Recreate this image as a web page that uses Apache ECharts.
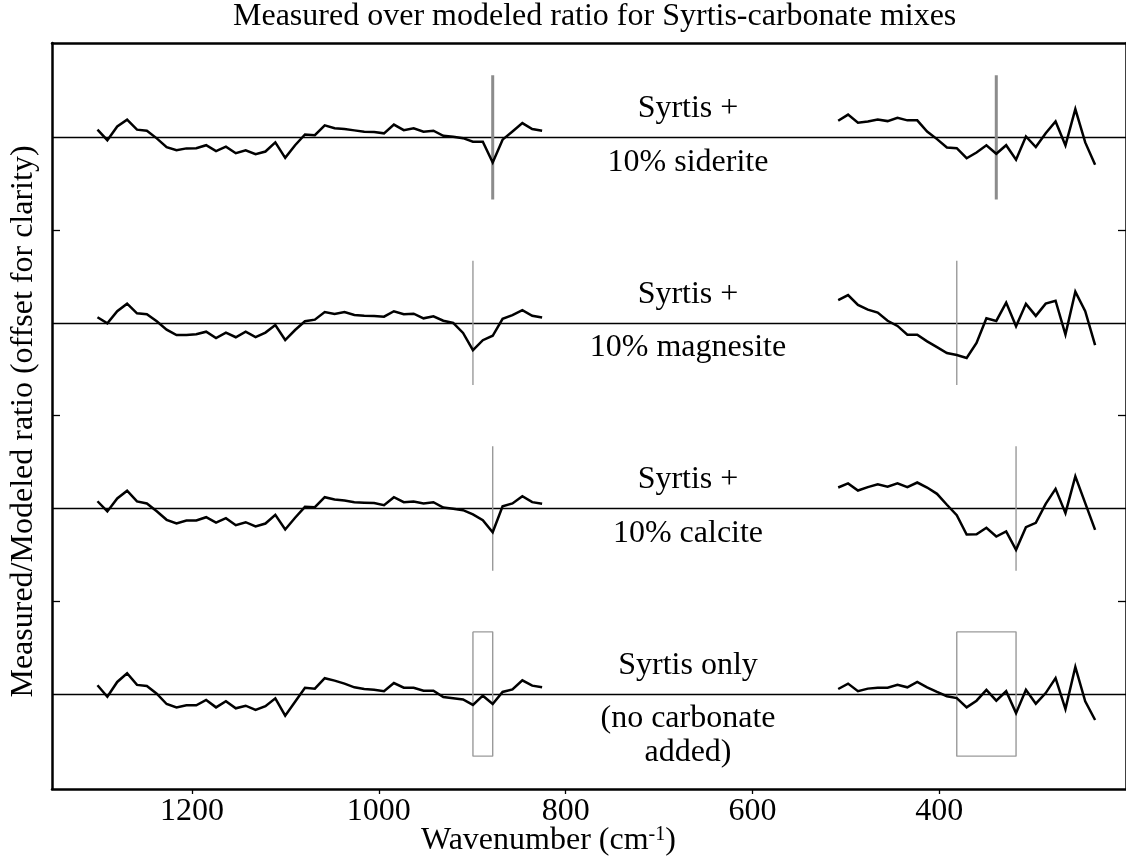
<!DOCTYPE html>
<html><head><meta charset="utf-8">
<script src="https://cdn.jsdelivr.net/npm/echarts@6/dist/echarts.min.js"></script>
<style>html,body{margin:0;padding:0;background:#fff}#c{width:1126px;height:863px}</style>
</head><body><div id="c"></div>
<script>
// TES channel wavenumbers (cm-1), as plotted
const wnLeft = [1301.31,1290.73,1280.15,1269.57,1258.99,1248.41,1237.83,1227.25,1216.67,1206.09,1195.51,1184.93,1174.35,1163.77,1153.19,1142.61,1132.03,1121.45,1110.87,1100.29,1089.71,1079.13,1068.55,1057.97,1047.39,1036.81,1026.23,1015.65,1005.07,994.49,983.91,973.33,962.75,952.17,941.59,931.01,920.43,909.85,899.27,888.69,878.11,867.53,856.95,846.37,835.79,825.21];
const wnRight = [508.17,497.59,487.01,476.43,465.85,455.27,444.69,434.11,423.53,412.95,402.37,391.79,381.21,370.63,360.05,349.47,338.89,328.31,317.73,307.15,296.57,285.99,275.41,264.83,254.25,243.66,233.08];

// Measured/modeled ratio (before offset)
const sideriteLeft = [1.0042,0.9985,1.0059,1.0096,1.0042,1.0036,0.9995,0.9948,0.9931,0.9941,0.9942,0.9958,0.9926,0.9950,0.9915,0.9931,0.9910,0.9924,0.9973,0.9890,0.9958,1.0016,1.0012,1.0065,1.0050,1.0045,1.0038,1.0031,1.0029,1.0022,1.0069,1.0039,1.0049,1.0031,1.0036,1.0009,1.0004,0.9996,0.9977,0.9977,0.9865,0.9988,1.0032,1.0077,1.0045,1.0036];
const sideriteRight = [1.0090,1.0123,1.0079,1.0086,1.0096,1.0088,1.0106,1.0092,1.0092,1.0032,0.9991,0.9946,0.9942,0.9888,0.9919,0.9958,0.9912,0.9958,0.9880,1.0005,0.9948,1.0023,1.0086,0.9957,1.0153,0.9973,0.9853];
const magnesiteLeft = [1.0031,0.9998,1.0063,1.0104,1.0052,1.0047,1.0009,0.9964,0.9935,0.9935,0.9939,0.9953,0.9919,0.9948,0.9923,0.9953,0.9924,0.9948,0.9989,0.9908,0.9962,1.0009,1.0018,1.0059,1.0049,1.0059,1.0043,1.0039,1.0038,1.0034,1.0063,1.0047,1.0050,1.0025,1.0036,1.0012,1.0000,0.9946,0.9853,0.9907,0.9931,1.0022,1.0042,1.0069,1.0039,1.0029];
const magnesiteRight = [1.0123,1.0150,1.0097,1.0072,1.0056,1.0012,0.9984,0.9937,0.9937,0.9901,0.9870,0.9838,0.9827,0.9811,0.9892,1.0025,1.0011,1.0110,0.9982,1.0103,1.0038,1.0104,1.0120,0.9937,1.0169,1.0063,0.9880];
const calciteLeft = [1.0039,0.9984,1.0054,1.0096,1.0038,1.0027,0.9985,0.9939,0.9919,0.9935,0.9935,0.9953,0.9924,0.9948,0.9910,0.9926,0.9903,0.9919,0.9966,0.9887,0.9950,1.0009,1.0007,1.0061,1.0049,1.0043,1.0034,1.0031,1.0029,1.0018,1.0061,1.0034,1.0038,1.0027,1.0034,1.0005,0.9998,0.9991,0.9968,0.9937,0.9872,1.0012,1.0027,1.0066,1.0034,1.0025];
const calciteRight = [1.0113,1.0135,1.0097,1.0115,1.0130,1.0117,1.0135,1.0115,1.0140,1.0113,1.0079,1.0020,0.9964,0.9860,0.9861,0.9896,0.9849,0.9876,0.9777,0.9899,0.9923,1.0025,1.0106,0.9975,1.0173,1.0029,0.9885];
const syrtisLeft = [1.0047,0.9985,1.0065,1.0112,1.0049,1.0043,1.0002,0.9946,0.9928,0.9939,0.9939,0.9968,0.9928,0.9961,0.9923,0.9937,0.9914,0.9934,0.9977,0.9883,0.9958,1.0034,1.0029,1.0085,1.0072,1.0056,1.0036,1.0027,1.0023,1.0015,1.0059,1.0034,1.0034,1.0018,1.0018,0.9984,0.9977,0.9971,0.9941,0.9991,0.9946,1.0011,1.0025,1.0074,1.0045,1.0036];
const syrtisRight = [1.0027,1.0056,1.0015,1.0029,1.0034,1.0034,1.0050,1.0036,1.0065,1.0036,1.0011,0.9988,0.9978,0.9928,0.9964,1.0022,0.9964,1.0015,0.9897,1.0023,0.9948,1.0005,1.0086,0.9919,1.0146,0.9961,0.9860];

// Vertical offsets for clarity (top to bottom)
const offsets = [0.3, 0.2, 0.1, 0.0];
const labelsAbove = ['Syrtis +', 'Syrtis +', 'Syrtis +', 'Syrtis only'];
const labelsBelow = [['10% siderite'], ['10% magnesite'], ['10% calcite'], ['(no carbonate', 'added)']];

// Carbonate band positions (cm-1)
const sideriteBands = [878.11, 338.89];
const magnesiteBands = [899.27, 381.21];
const calciteBands = [878.11, 317.73];
const syrtisBoxes = [[899.27, 878.11], [381.21, 317.73]];

const xTicks = [1200, 1000, 800, 600, 400];
const yTicks = [1.05, 1.15, 1.25];

const FONT = "'Liberation Serif', 'Times New Roman', serif";
const spectra = [
  [sideriteLeft, sideriteRight],
  [magnesiteLeft, magnesiteRight],
  [calciteLeft, calciteRight],
  [syrtisLeft, syrtisRight]
];

const series = [];
const H = 0.0335;
spectra.forEach((pair, k) => {
  const off = offsets[k];
  [[wnLeft, pair[0]], [wnRight, pair[1]]].forEach(([wn, vals], s) => {
    const ser = {
      type: 'line', showSymbol: false, symbol: 'none', silent: true, z: 5,
      lineStyle: { color: '#000', width: 2.5, join: 'miter' },
      data: wn.map((w, i) => [w, vals[i] + off])
    };
    if (s === 0) {
      ser.markLine = {
        silent: true, symbol: 'none', label: { show: false },
        lineStyle: { color: '#000', width: 1.3, type: 'solid' },
        data: [{ yAxis: 1 + off }], z: 2
      };
    }
    series.push(ser);
  });
});

function vline(x, base, width, color) {
  series.push({
    type: 'line', symbol: 'none', silent: true, z: 3,
    lineStyle: { color: color, width: width },
    data: [[x, base + H], [x, base - H]]
  });
}
sideriteBands.forEach(x => vline(x, 1 + offsets[0], 3, '#8c8c8c'));
magnesiteBands.forEach(x => vline(x, 1 + offsets[1], 1.4, '#9a9a9a'));
calciteBands.forEach(x => vline(x, 1 + offsets[2], 1.4, '#9a9a9a'));
syrtisBoxes.forEach(([a, b]) => {
  const base = 1 + offsets[3];
  series.push({
    type: 'line', symbol: 'none', silent: true, z: 3,
    lineStyle: { color: '#9a9a9a', width: 1.4 },
    data: [[a, base + H], [b, base + H], [b, base - H], [a, base - H], [a, base + H]]
  });
});

// annotation texts
const textX = 669;
const annot = [];
labelsAbove.forEach((t, k) => {
  const base = 1 + offsets[k];
  annot.push({ name: t, value: [textX, base + 0.0155] });
  labelsBelow[k].forEach((t2, j) => {
    annot.push({ name: t2, value: [textX, base - 0.0135 - j * 0.0183] });
  });
});
series.push({
  type: 'scatter', symbolSize: 0, silent: true, z: 6,
  itemStyle: { opacity: 1 },
  data: annot,
  label: {
    show: true, position: 'inside', formatter: p => p.name,
    fontFamily: FONT, fontSize: 32, color: '#000', opacity: 1, textBorderWidth: 0
  }
});

const axisFont = { fontFamily: FONT, fontSize: 32, color: '#000', fontWeight: 'normal' };
const option = {
  animation: false,
  backgroundColor: '#fff',
  title: [
    { text: 'Measured over modeled ratio for Syrtis-carbonate mixes', left: 233, top: 1, padding: 0,
      textStyle: { fontFamily: FONT, fontSize: 32, fontWeight: 'normal', color: '#000' } },
    { text: '{a|Wavenumber (cm}{b|-1}{a|)}', left: 421, top: 825, padding: 0,
      textStyle: { fontWeight: 'normal', rich: {
        a: { fontFamily: FONT, fontSize: 32, fontWeight: 'normal', color: '#000', lineHeight: 32 },
        b: { fontFamily: FONT, fontSize: 20, fontWeight: 'normal', color: '#000', verticalAlign: 'top', lineHeight: 20 }
      } } }
  ],
  grid: { left: 52, top: 43, width: 1079, height: 746, containLabel: false },
  xAxis: [
    { type: 'value', min: 200, max: 1350, inverse: true, position: 'bottom',
      axisLine: { show: true, lineStyle: { color: '#000', width: 2.5 } },
      axisTick: { show: true, inside: false, length: 5, customValues: xTicks, lineStyle: { color: '#000', width: 1.3 } },
      axisLabel: { show: true, margin: 7, customValues: xTicks, formatter: v => String(v), ...axisFont },
      splitLine: { show: false } },
    { type: 'value', min: 200, max: 1350, inverse: true, position: 'top',
      axisLine: { show: true, lineStyle: { color: '#000', width: 2.5 } },
      axisTick: { show: false }, axisLabel: { show: false }, splitLine: { show: false } }
  ],
  yAxis: [
    { type: 'value', min: 0.9488, max: 1.3509, position: 'left',
      name: 'Measured/Modeled ratio (offset for clarity)', nameLocation: 'middle', nameGap: 12,
      nameTextStyle: { ...axisFont, padding: [0, 11, 0, 0] },
      axisLine: { show: true, lineStyle: { color: '#000', width: 2.5 } },
      axisTick: { show: true, inside: true, length: 8, customValues: yTicks, lineStyle: { color: '#000', width: 1.3 } },
      axisLabel: { show: false }, splitLine: { show: false } },
    { type: 'value', min: 0.9488, max: 1.3509, position: 'right',
      axisLine: { show: true, lineStyle: { color: '#000', width: 2.5 } },
      axisTick: { show: true, inside: true, length: 8, customValues: yTicks, lineStyle: { color: '#000', width: 1.3 } },
      axisLabel: { show: false }, splitLine: { show: false } }
  ],
  series: series
};
const chart = echarts.init(document.getElementById('c'), null, { renderer: 'canvas' });
chart.setOption(option);
</script>
</body></html>
